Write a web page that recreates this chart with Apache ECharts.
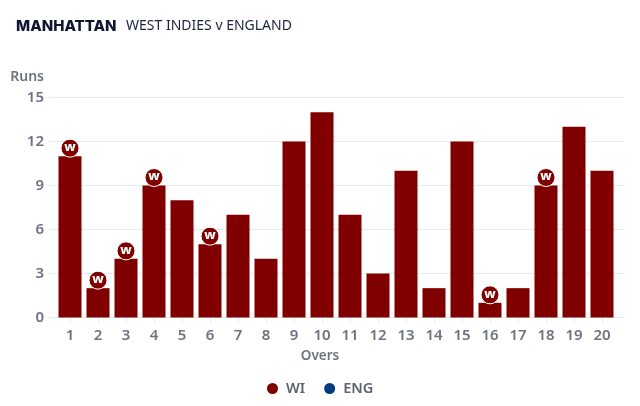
<!DOCTYPE html>
<html><head><meta charset="utf-8">
<style>html,body{margin:0;padding:0;background:#fff}#c{width:640px;height:406px}</style>
<script src="https://cdn.jsdelivr.net/npm/echarts@6/dist/echarts.min.js"></script>
</head><body><div id="c"></div>
<script>
const overs = ['1','2','3','4','5','6','7','8','9','10','11','12','13','14','15','16','17','18','19','20'];
const wiRuns = [11,2,4,9,8,5,7,4,12,14,7,3,10,2,12,1,2,9,13,10];
const engRuns = [];
const wicketOvers = ['1','2','3','4','6','16','18'];
const wicketRuns = [11,2,4,9,5,1,9];
const yTicks = [0,3,6,9,12,15];
const font = '"Noto Sans", sans-serif';
const chart = echarts.init(document.getElementById('c'), null, {renderer:'canvas'});
chart.setOption({
  animation:false,
  backgroundColor:'#fff',
  title:[
    {text:'MANHATTAN',left:16,top:19,padding:0,textStyle:{fontFamily:'Inter',fontSize:15,fontWeight:800,color:'#0f1633'}},
    {text:'WEST INDIES v ENGLAND',left:126,top:19,padding:0,textStyle:{fontFamily:font,fontSize:14,fontWeight:400,color:'#1d2340'}}
  ],
  legend:{data:[{name:'WI',itemStyle:{color:'#800000'}},{name:'ENG',itemStyle:{color:'#003c7d'}}],
    left:262,top:376,icon:'circle',itemWidth:11,itemHeight:11,itemGap:19,
    textStyle:{fontFamily:font,fontSize:14.5,fontWeight:600,color:'#5f6270',padding:[0,0,0,3]}},
  grid:{left:56,right:24,top:97.5,bottom:88.5},
  xAxis:{type:'category',data:overs,name:'Overs',nameLocation:'middle',nameGap:32,
    nameTextStyle:{fontFamily:font,fontSize:13.5,fontWeight:600,color:'#6f7280',padding:[0,32,0,0]},
    axisLine:{show:true,lineStyle:{color:'#e6e7ea'}},
    axisTick:{show:true,alignWithLabel:true,length:5,lineStyle:{color:'#e6e7ea'}},
    axisLabel:{fontFamily:font,fontSize:15,fontWeight:600,color:'#6f7280',margin:11,interval:0}},
  yAxis:[{type:'value',min:0,max:15,interval:3,name:'Runs',nameLocation:'end',nameGap:13,
    nameTextStyle:{fontFamily:font,fontSize:14,fontWeight:600,color:'#6f7280',align:'right',padding:[0,12,0,0]},
    axisLine:{show:false},
    axisTick:{show:true,length:7,lineStyle:{color:'#e9eaed'}},
    splitLine:{show:true,lineStyle:{color:'#e9eaed'}},
    axisLabel:{fontFamily:font,fontSize:15,fontWeight:600,color:'#6f7280',margin:12,
      formatter:v=>yTicks.includes(v)?String(v):''}},
    {type:'value',position:'right',min:0,max:15,interval:3,
    axisLine:{show:false},
    axisTick:{show:true,length:8,lineStyle:{color:'#e9eaed'}},
    splitLine:{show:false},axisLabel:{show:false}}],
  series:[
    {name:'WI',type:'bar',data:wiRuns,barWidth:23,itemStyle:{color:'#800000'}},
    {name:'ENG',type:'bar',data:engRuns,barWidth:23,barGap:'-100%',itemStyle:{color:'#003c7d'}},
    {name:'Wickets',type:'scatter',data:wicketOvers.map((o,i)=>[o,wicketRuns[i]]),
      symbol:'circle',symbolSize:18,symbolOffset:[0,-8],z:5,clip:false,
      itemStyle:{color:'#800000',opacity:1,borderColor:'#fff',borderWidth:1},
      label:{show:true,position:'inside',offset:[0,-1],formatter:'w',color:'#fff',fontFamily:font,fontSize:13,fontWeight:800}}
  ]
});
</script></body></html>
